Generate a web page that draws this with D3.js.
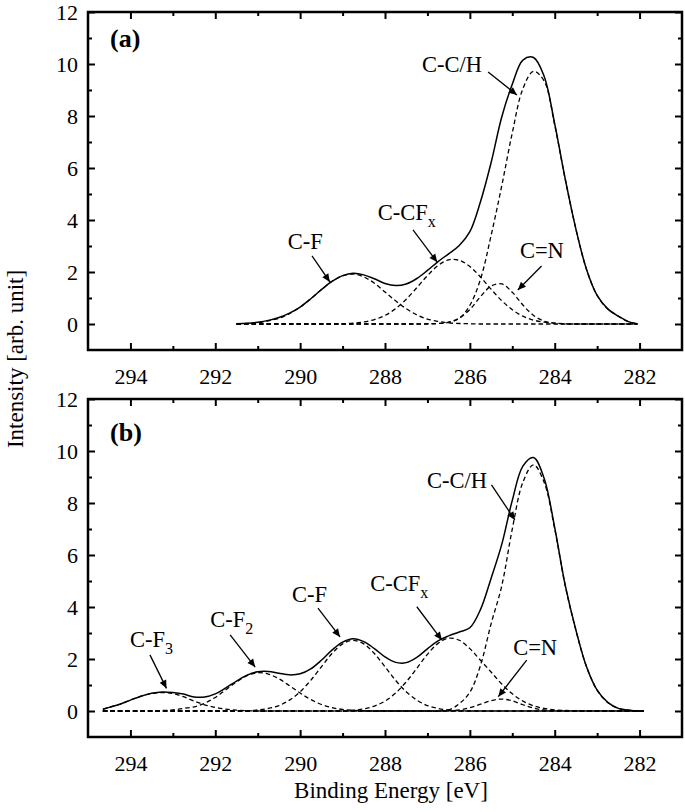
<!DOCTYPE html>
<html>
<head>
<meta charset="utf-8">
<script src="https://cdn.jsdelivr.net/npm/d3@7"></script>
<style>
  html, body { margin: 0; padding: 0; background: #fff; }
  svg { display: block; }
  svg text { font-family: 'Liberation Serif', Tinos, 'Times New Roman', Times, 'DejaVu Serif', serif !important; fill: #000; }
</style>
</head>
<body>
<svg id="chart" width="685" height="812"></svg>
<script>
// ---------------- DATA ----------------
// Panel (a) binding energies [eV]
const energyA = [291.5, 291.25, 291.0, 290.75, 290.5, 290.25, 290.0, 289.75, 289.5, 289.25,
  289.0, 288.75, 288.5, 288.25, 288.0, 287.75, 287.5, 287.25, 287.0, 286.75,
  286.5, 286.25, 286.0, 285.75, 285.5, 285.25, 285.0, 284.75, 284.5, 284.25,
  284.0, 283.75, 283.5, 283.25, 283.0, 282.75, 282.5, 282.25, 282.05];
const totalA = [0.01, 0.03, 0.07, 0.14, 0.25, 0.42, 0.65, 0.97, 1.32, 1.64,
  1.86, 1.95, 1.89, 1.74, 1.56, 1.48, 1.54, 1.75, 2.06, 2.40,
  2.70, 3.02, 3.55, 4.70, 6.20, 7.95, 9.22, 10.15, 10.25, 9.53,
  7.70, 5.56, 3.65, 2.10, 1.10, 0.58, 0.30, 0.08, 0.01];
const cfA = [0.01, 0.02, 0.05, 0.12, 0.22, 0.40, 0.65, 0.97, 1.32, 1.64,
  1.85, 1.92, 1.81, 1.57, 1.23, 0.89, 0.59, 0.35, 0.19, 0.10,
  0.04, 0.02, 0.01, 0, 0, 0, 0, 0, 0, 0,
  0, 0, 0, 0, 0, 0, 0, 0, 0];
const ccfxA = [0, 0, 0, 0, 0, 0, 0, 0, 0, 0,
  0.01, 0.03, 0.08, 0.17, 0.33, 0.59, 0.95, 1.40, 1.86, 2.25,
  2.47, 2.45, 2.21, 1.81, 1.34, 0.90, 0.55, 0.30, 0.15, 0.07,
  0.03, 0.01, 0, 0, 0, 0, 0, 0, 0];
const cnA = [0, 0, 0, 0, 0, 0, 0, 0, 0, 0,
  0, 0, 0, 0, 0, 0, 0, 0, 0, 0.02,
  0.07, 0.23, 0.56, 1.05, 1.46, 1.54, 1.22, 0.73, 0.33, 0.11,
  0.03, 0, 0, 0, 0, 0, 0, 0, 0];
const cchA = [0, 0, 0, 0, 0, 0, 0, 0, 0, 0,
  0, 0, 0, 0, 0, 0, 0, 0, 0.01, 0.02,
  0.06, 0.22, 0.72, 1.72, 3.40, 5.30, 7.35, 9.05, 9.72, 9.35,
  7.65, 5.55, 3.65, 2.10, 1.10, 0.58, 0.30, 0.08, 0.01];

// Panel (b) binding energies [eV]
const energyB = [294.65, 294.5, 294.25, 294.0, 293.75, 293.5, 293.25, 293.0, 292.75, 292.5,
  292.25, 292.0, 291.75, 291.5, 291.25, 291.0, 290.75, 290.5, 290.25, 290.0,
  289.75, 289.5, 289.25, 289.0, 288.75, 288.5, 288.25, 288.0, 287.75, 287.5,
  287.25, 287.0, 286.75, 286.5, 286.25, 286.0, 285.75, 285.5, 285.25, 285.0,
  284.75, 284.5, 284.25, 284.0, 283.75, 283.5, 283.25, 283.0, 282.75, 282.5,
  282.25, 282.0, 281.9];
const totalB = [0.07, 0.14, 0.26, 0.42, 0.57, 0.68, 0.73, 0.71, 0.65, 0.54,
  0.54, 0.66, 0.89, 1.15, 1.38, 1.51, 1.52, 1.45, 1.39, 1.43,
  1.62, 1.95, 2.34, 2.65, 2.78, 2.67, 2.40, 2.08, 1.87, 1.86,
  2.06, 2.39, 2.70, 2.89, 3.04, 3.20, 3.90, 5.10, 6.40, 8.10,
  9.42, 9.75, 8.95, 7.05, 4.82, 3.11, 1.70, 0.80, 0.33, 0.10,
  0.03, 0, 0];
const cf3B = [0.07, 0.14, 0.26, 0.42, 0.57, 0.67, 0.71, 0.67, 0.55, 0.38,
  0.24, 0.14, 0.07, 0.03, 0.01, 0, 0, 0, 0, 0,
  0, 0, 0, 0, 0, 0, 0, 0, 0, 0,
  0, 0, 0, 0, 0, 0, 0, 0, 0, 0,
  0, 0, 0, 0, 0, 0, 0, 0, 0, 0,
  0, 0, 0];
const cf2B = [0, 0, 0, 0, 0, 0.01, 0.02, 0.04, 0.10, 0.16,
  0.30, 0.52, 0.82, 1.12, 1.36, 1.47, 1.42, 1.24, 0.97, 0.69,
  0.44, 0.25, 0.13, 0.06, 0.03, 0.01, 0, 0, 0, 0,
  0, 0, 0, 0, 0, 0, 0, 0, 0, 0,
  0, 0, 0, 0, 0, 0, 0, 0, 0, 0,
  0, 0, 0];
const cfB = [0, 0, 0, 0, 0, 0, 0, 0, 0, 0,
  0, 0, 0, 0, 0.01, 0.04, 0.10, 0.21, 0.42, 0.74,
  1.18, 1.70, 2.21, 2.58, 2.72, 2.58, 2.21, 1.70, 1.18, 0.74,
  0.42, 0.21, 0.10, 0.04, 0.01, 0, 0, 0, 0, 0,
  0, 0, 0, 0, 0, 0, 0, 0, 0, 0,
  0, 0, 0];
const ccfxB = [0, 0, 0, 0, 0, 0, 0, 0, 0, 0,
  0, 0, 0, 0, 0, 0, 0, 0, 0, 0,
  0, 0, 0, 0.01, 0.03, 0.08, 0.19, 0.38, 0.69, 1.12,
  1.64, 2.18, 2.60, 2.80, 2.72, 2.40, 1.95, 1.50, 1.04, 0.66,
  0.38, 0.20, 0.10, 0.04, 0.02, 0.01, 0, 0, 0, 0,
  0, 0, 0];
const cnB = [0, 0, 0, 0, 0, 0, 0, 0, 0, 0,
  0, 0, 0, 0, 0, 0, 0, 0, 0, 0,
  0, 0, 0, 0, 0, 0, 0, 0, 0, 0,
  0, 0, 0, 0.01, 0.04, 0.13, 0.26, 0.40, 0.46, 0.39,
  0.24, 0.11, 0.04, 0.01, 0, 0, 0, 0, 0, 0,
  0, 0, 0];
const cchB = [0, 0, 0, 0, 0, 0, 0, 0, 0, 0,
  0, 0, 0, 0, 0, 0, 0, 0, 0, 0,
  0, 0, 0, 0, 0, 0, 0, 0, 0, 0,
  0, 0, 0, 0.04, 0.28, 0.72, 1.75, 3.35, 4.80, 7.00,
  8.80, 9.47, 8.80, 7.00, 4.80, 3.10, 1.70, 0.80, 0.33, 0.10,
  0.03, 0, 0];

// Axis ticks
const xMajorTicks = [294, 292, 290, 288, 286, 284, 282];
const xMinorTicks = [293, 291, 289, 287, 285, 283];
const yMajorTicks = [0, 2, 4, 6, 8, 10, 12];
const yMinorTicks = [1, 3, 5, 7, 9, 11];
const xDomain = [295, 281];
const yDomain = [-1, 12];

// Peak annotations: label, subscript, label anchor (energy, intensity), arrow from -> to
const annotA = [
  { label: "C-F",   sub: "",  at: [290.29, 2.88], from: [289.72, 2.62], to: [289.30, 1.62] },
  { label: "C-CF",  sub: "x", at: [288.17, 4.00], from: [287.34, 3.62], to: [286.77, 2.38] },
  { label: "C-C/H", sub: "",  at: [287.13, 9.69], from: [285.57, 9.69], to: [284.89, 8.81] },
  { label: "C=N",   sub: "",  at: [284.82, 2.54], from: [284.31, 2.23], to: [284.87, 1.31] }
];
const annotB = [
  { label: "C-F",   sub: "3", at: [294.01, 2.47], from: [293.54, 2.16], to: [293.15, 0.87] },
  { label: "C-F",   sub: "2", at: [292.12, 3.24], from: [291.65, 2.93], to: [291.06, 1.69] },
  { label: "C-F",   sub: "",  at: [290.19, 4.21], from: [289.58, 3.96], to: [289.06, 2.85] },
  { label: "C-CF",  sub: "x", at: [288.35, 4.63], from: [287.25, 4.01], to: [286.66, 2.73] },
  { label: "C-C/H", sub: "",  at: [287.01, 8.57], from: [285.49, 8.70], to: [284.94, 7.35] },
  { label: "C=N",   sub: "",  at: [284.98, 2.16], from: [284.66, 1.96], to: [285.33, 0.55] }
];
const panelLabels = ["(a)", "(b)"];
const panelLabelPos = [[294.48, 10.65], [294.48, 10.40]];
const xTitle = "Binding Energy [eV]";
const yTitle = "Intensity [arb. unit]";

// ---------------- DRAWING ----------------
const FONT = "'Liberation Serif', Tinos, 'Times New Roman', Times, 'DejaVu Serif', serif";
const svg = d3.select("#chart");
const defs = svg.append("defs");
defs.append("marker")
  .attr("id", "arrowhead")
  .attr("markerUnits", "userSpaceOnUse")
  .attr("viewBox", "0 0 10 10")
  .attr("refX", 10).attr("refY", 5)
  .attr("markerWidth", 10).attr("markerHeight", 8)
  .attr("orient", "auto")
  .append("path").attr("d", "M0,0.5 L10,5 L0,9.5 Z").attr("fill", "#000");

const left = 88, right = 682;
const panels = [
  { top: 12, bottom: 350, energy: energyA, total: totalA,
    comps: [cfA, ccfxA, cnA, cchA], annot: annotA },
  { top: 399, bottom: 737, energy: energyB, total: totalB,
    comps: [cf3B, cf2B, cfB, ccfxB, cnB, cchB], annot: annotB }
];

const x = d3.scaleLinear().domain(xDomain).range([left, right]);

panels.forEach((p, pi) => {
  const y = d3.scaleLinear().domain(yDomain).range([p.bottom, p.top]);
  const g = svg.append("g");

  const line = d3.line()
    .x(d => x(d[0])).y(d => y(d[1]))
    .curve(d3.curveCatmullRom.alpha(0.5));

  p.comps.forEach(arr => {
    g.append("path")
      .datum(p.energy.map((e, i) => [e, arr[i]]))
      .attr("d", line)
      .attr("fill", "none")
      .attr("stroke", "#000")
      .attr("stroke-width", 1.3)
      .attr("stroke-dasharray", "4.5,3");
  });
  g.append("path")
    .datum(p.energy.map((e, i) => [e, p.total[i]]))
    .attr("d", line)
    .attr("fill", "none")
    .attr("stroke", "#000")
    .attr("stroke-width", 1.5);

  const fmt = d3.format("d");
  g.append("g").attr("transform", `translate(0,${p.bottom})`)
    .call(d3.axisBottom(x).tickValues(xMajorTicks).tickSize(-7).tickPadding(18).tickFormat(fmt));
  g.append("g").attr("transform", `translate(0,${p.bottom})`)
    .call(d3.axisBottom(x).tickValues(xMinorTicks).tickSize(-4).tickFormat(""));
  g.append("g").attr("transform", `translate(0,${p.top})`)
    .call(d3.axisTop(x).tickValues(xMajorTicks).tickSize(-7).tickFormat(""));
  g.append("g").attr("transform", `translate(0,${p.top})`)
    .call(d3.axisTop(x).tickValues(xMinorTicks).tickSize(-4).tickFormat(""));
  g.append("g").attr("transform", `translate(${left},0)`)
    .call(d3.axisLeft(y).tickValues(yMajorTicks).tickSize(-7).tickPadding(10).tickFormat(fmt));
  g.append("g").attr("transform", `translate(${left},0)`)
    .call(d3.axisLeft(y).tickValues(yMinorTicks).tickSize(-4).tickFormat(""));
  g.append("g").attr("transform", `translate(${right},0)`)
    .call(d3.axisRight(y).tickValues(yMajorTicks).tickSize(-7).tickFormat(""));
  g.append("g").attr("transform", `translate(${right},0)`)
    .call(d3.axisRight(y).tickValues(yMinorTicks).tickSize(-4).tickFormat(""));

  g.selectAll("g").attr("font-family", FONT);
  g.selectAll(".domain").remove();
  g.selectAll(".tick line").attr("stroke", "#000").attr("stroke-width", 2);
  g.selectAll(".tick text")
    .attr("font-family", FONT)
    .attr("font-size", 22).attr("fill", "#000");

  g.append("rect")
    .attr("x", left).attr("y", p.top)
    .attr("width", right - left).attr("height", p.bottom - p.top)
    .attr("fill", "none").attr("stroke", "#000").attr("stroke-width", 2.5);

  p.annot.forEach(a => {
    const t = g.append("text")
      .attr("x", x(a.at[0])).attr("y", y(a.at[1]))
      .attr("font-family", FONT)
      .attr("font-size", 22.5);
    t.append("tspan").text(a.label);
    if (a.sub) {
      t.append("tspan").attr("dy", 7).attr("font-size", 16).text(a.sub);
    }
    g.append("line")
      .attr("x1", x(a.from[0])).attr("y1", y(a.from[1]))
      .attr("x2", x(a.to[0])).attr("y2", y(a.to[1]))
      .attr("stroke", "#000").attr("stroke-width", 1.3)
      .attr("marker-end", "url(#arrowhead)");
  });

  g.append("text")
    .attr("x", x(panelLabelPos[pi][0])).attr("y", y(panelLabelPos[pi][1]))
    .attr("font-family", FONT)
    .attr("font-size", 26).attr("font-weight", "bold")
    .text(panelLabels[pi]);
});

svg.append("text")
  .attr("x", 391).attr("y", 798)
  .attr("text-anchor", "middle")
  .attr("font-family", FONT)
  .attr("font-size", 23)
  .text(xTitle);
svg.append("text")
  .attr("transform", "translate(23,359) rotate(-90)")
  .attr("text-anchor", "middle")
  .attr("font-family", FONT)
  .attr("font-size", 23)
  .text(yTitle);
</script>
</body>
</html>
